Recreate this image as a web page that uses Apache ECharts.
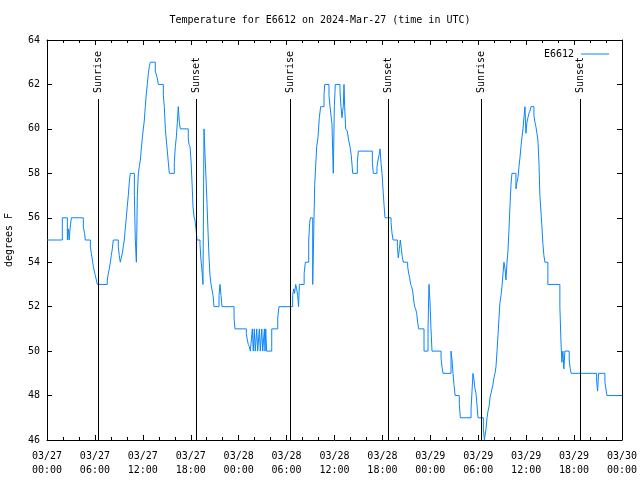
<!DOCTYPE html>
<html><head><meta charset="utf-8">
<script src="https://cdn.jsdelivr.net/npm/echarts@6/dist/echarts.min.js"></script>
<style>html,body{margin:0;padding:0;background:#fff}#c{width:640px;height:480px}</style>
</head><body><div id="c"></div>
<script>
const seriesName = 'E6612';
const chartTitle = 'Temperature for E6612 on 2024-Mar-27 (time in UTC)';
const yAxisName = 'degrees F';
// [hours since 03/27 00:00 UTC, temperature F]
const day1 = [[0,55],[1.92,56],[2.55,55],[2.68,55.5],[2.78,55],[2.88,55.5],[3.05,56],[4.55,55.6],[4.7,55.3],[4.8,55],[5.43,54.7],[5.55,54.4],[5.68,54.1],[5.8,53.8],[5.93,53.6],[6.05,53.4],[6.18,53.2],[6.3,53],[7.55,53.2],[7.68,53.5],[7.8,53.7],[7.93,54],[8.05,54.3],[8.18,54.6],[8.3,55],[8.93,54.7],[9.05,54.3],[9.18,54],[9.3,54.2],[9.43,54.4],[9.55,54.7],[9.68,55],[9.8,55.5],[9.93,56],[10.05,56.5],[10.18,57],[10.3,57.6],[10.43,58],[10.94,57],[11.06,55],[11.19,54],[11.25,55.5],[11.31,57],[11.44,58],[11.56,58.3],[11.69,58.6],[11.81,59.1],[11.94,59.6],[12.06,60],[12.19,60.4],[12.31,61],[12.44,61.6],[12.56,62],[12.69,62.5],[12.81,62.8],[12.94,63],[13.56,62.6],[13.8,62.3],[13.94,62],[14.57,61.5],[14.69,61],[14.82,60],[14.94,59.5],[15.07,59],[15.19,58.5],[15.32,58],[15.94,58.5],[16.07,59.2],[16.19,59.6],[16.32,60.3],[16.44,61],[16.57,60.3],[16.69,60],[17.69,59.6],[17.78,59.3],[17.91,59.2],[18.03,58.6],[18.16,57.6],[18.28,56.5],[18.41,56.05],[18.53,55.9],[18.66,55.5],[18.78,55],[19.16,54.8],[19.28,54.1],[19.41,53.6],[19.53,53],[19.66,60],[19.79,58.8],[19.91,57.8],[20.04,56.6],[20.16,55.4],[20.29,54.2],[20.41,53.4],[20.54,53],[20.79,52.5],[20.91,52],[21.54,52.5],[21.66,53],[21.79,52.5],[21.91,52],[23.42,51.5],[23.54,51]];
const day2 = [[24.96,50.8],[25.08,50.5],[25.21,50.3],[25.33,50.2],[25.46,50],[25.71,51],[25.83,50],[25.96,51],[26.08,50],[26.26,51],[26.38,50],[26.59,51],[26.71,50],[26.89,51],[27.01,50],[27.22,51],[27.3,50],[27.39,51],[27.5,50],[28.14,51],[28.89,51.5],[29.05,52],[30.76,52.5],[30.89,52.8],[31.0,52.6],[31.14,53],[31.26,52.8],[31.39,52.5],[31.5,52],[31.6,53],[32.2,53.5],[32.35,54],[32.77,55],[32.9,55.8],[33.0,56],[33.27,53],[33.52,57.5],[33.77,59.2],[33.93,59.6],[34.1,60.5],[34.27,61],[34.69,61.5],[34.77,62],[35.31,61.5],[35.44,61],[35.56,60.6],[35.69,60.2],[35.77,59],[35.85,58],[35.98,61],[36.1,62],[36.69,61.7],[36.81,61],[36.94,60.5],[37.02,60.8],[37.1,61],[37.19,62],[37.27,61],[37.4,60],[37.6,59.9],[37.77,59.5],[37.94,59.2],[38.1,58.8],[38.28,58],[38.86,58.5],[38.98,59],[40.74,58.5],[40.86,58],[41.32,58.3],[41.45,58.6],[41.57,58.8],[41.7,59.1],[41.82,58.5],[41.95,58],[42.07,57.3],[42.2,56.6],[42.32,56],[43.08,55.8],[43.2,55.3],[43.33,55],[43.87,54.7],[43.99,54.2],[44.12,54.6],[44.24,55],[44.37,54.6],[44.5,54.2],[44.62,54],[45.16,53.8],[45.29,53.5],[45.41,53.3],[45.54,53],[45.66,52.9],[45.79,52.7],[45.91,52.3],[46.04,52],[46.16,51.9],[46.29,51.7],[46.41,51.3],[46.54,51],[47.21,50],[47.71,51],[47.83,53],[47.96,52.2],[48.08,51],[48.21,50]];
const day3 = [[49.34,49.7],[49.46,49.3],[49.59,49],[50.59,50],[50.72,49.6],[50.84,49],[50.96,48.5],[51.1,48],[51.63,47.6],[51.76,47],[53.1,47.4],[53.22,48.2],[53.34,49],[53.47,48.7],[53.59,48.3],[53.72,48.1],[53.84,47.6],[53.97,47],[54.64,46.5],[54.77,46],[54.97,46.5],[55.1,47],[55.22,47.3],[55.35,47.5],[55.47,47.9],[55.6,48.1],[55.72,48.3],[55.85,48.5],[55.97,48.8],[56.1,49],[56.22,49.3],[56.35,50],[56.47,50.7],[56.6,51.5],[56.72,52.2],[56.85,52.5],[56.97,52.9],[57.1,53.5],[57.22,54],[57.35,53.7],[57.47,53.2],[57.6,54],[57.72,54.5],[57.85,55.5],[57.97,56.5],[58.1,57.5],[58.22,58],[58.72,57.3],[58.85,57.6],[58.97,57.8],[59.1,58.3],[59.22,58.7],[59.35,59.2],[59.47,59.6],[59.6,60],[59.72,60.5],[59.85,61],[59.97,59.8],[60.1,60.3],[60.22,60.5],[60.35,60.7],[60.47,60.8],[60.6,61],[60.97,60.6],[61.1,60.3],[61.22,60.1],[61.35,59.8],[61.47,59.5],[61.6,58.5],[61.72,57],[61.85,56.3],[61.97,55.6],[62.1,54.8],[62.22,54.3],[62.35,54],[62.72,53],[64.22,52],[64.35,50.5],[64.47,49.5],[64.6,50],[64.72,49.2],[64.85,50],[65.39,49.6],[65.52,49.2],[65.64,49],[68.82,48.7],[68.94,48.2],[69.07,49],[69.86,48.6],[69.99,48.3],[70.11,48],[72,48]];
const eventHours = [6.42, 18.7, 30.38, 42.72, 54.38, 66.8];
const eventNames = ['Sunrise','Sunset','Sunrise','Sunset','Sunrise','Sunset'];
const xTickDates = ['03/27','03/27','03/27','03/27','03/28','03/28','03/28','03/28','03/29','03/29','03/29','03/29','03/30'];
const xTickTimes = ['00:00','06:00','12:00','18:00','00:00','06:00','12:00','18:00','00:00','06:00','12:00','18:00','00:00'];
const xMin = 0, xMax = 72, xStep = 6;
const yMin = 46, yMax = 64, yStep = 2;

const FONT = 'DejaVu Sans Mono';
const LINE = '#0a84ff';
const txt = {fontFamily: FONT, fontSize: 10, color: '#000'};
const chart = echarts.init(document.getElementById('c'), null, {renderer: 'canvas'});
const temps = day1.concat(day2, day3);

function xAxisDef(pos, labels) {
  return {
    type: 'value', min: xMin, max: xMax, interval: xStep, position: pos,
    axisLine: {show: true, onZero: false, lineStyle: {color: '#000', width: 1}},
    axisTick: {show: true, inside: true, length: 5, lineStyle: {color: '#000'}},
    minorTick: {show: true, splitNumber: 3, length: 3, lineStyle: {color: '#000'}},
    splitLine: {show: false}, minorSplitLine: {show: false},
    axisLabel: labels ? Object.assign({margin: 9, lineHeight: 14, formatter: v => {
      const i = Math.round((v - xMin) / xStep);
      return xTickDates[i] + '\n' + xTickTimes[i];
    }}, txt) : {show: false}
  };
}
function yAxisDef(pos, labels) {
  const a = {
    type: 'value', min: yMin, max: yMax, interval: yStep, position: pos,
    axisLine: {show: true, onZero: false, lineStyle: {color: '#000', width: 1}},
    axisTick: {show: true, inside: true, length: 5, lineStyle: {color: '#000'}},
    splitLine: {show: false},
    axisLabel: labels ? Object.assign({margin: 7}, txt) : {show: false}
  };
  if (labels) {
    a.name = yAxisName; a.nameLocation = 'middle'; a.nameGap = 33; a.nameRotate = 90;
    a.nameTextStyle = Object.assign({}, txt);
  }
  return a;
}

chart.setOption({
  animation: false,
  backgroundColor: '#fff',
  title: {text: chartTitle, left: 'center', top: 10, textStyle: Object.assign({fontWeight: 'normal'}, txt)},
  legend: {data: [seriesName], right: 26, top: 44, align: 'right', icon: 'rect', itemWidth: 28, itemHeight: 1,
    textStyle: Object.assign({padding: [0, 2, 0, 0]}, txt), selectedMode: false},
  grid: {left: 47, right: 18, top: 40, bottom: 40, containLabel: false, outerBoundsMode: 'none'},
  xAxis: [xAxisDef('bottom', true), xAxisDef('top', false)],
  yAxis: [yAxisDef('left', true), yAxisDef('right', false)],
  series: [
    {name: seriesName, type: 'line', data: temps, step: 'end', symbol: 'none', showSymbol: false,
     lineStyle: {color: LINE, width: 1}, itemStyle: {color: LINE}, z: 3},
    {type: 'custom', data: eventHours.map(h => [h]), encode: {x: 0}, silent: true, z: 4,
     renderItem: (params, api) => {
       const t = api.value(0);
       const b = api.coord([t, yMin]);
       const top = api.coord([t, yMax]);
       const x = Math.round(b[0]) + 0.5;
       const lineTop = top[1] + 59;
       return {type: 'group', children: [
         {type: 'line', shape: {x1: x, y1: b[1], x2: x, y2: lineTop}, style: {stroke: '#000', lineWidth: 1}},
         {type: 'text', x: x, y: lineTop - 6, rotation: Math.PI / 2,
          style: {text: eventNames[params.dataIndex], align: 'left', verticalAlign: 'middle',
                  fontFamily: FONT, fontSize: 10, fill: '#000'}}
       ]};
     }}
  ]
});
</script></body></html>
